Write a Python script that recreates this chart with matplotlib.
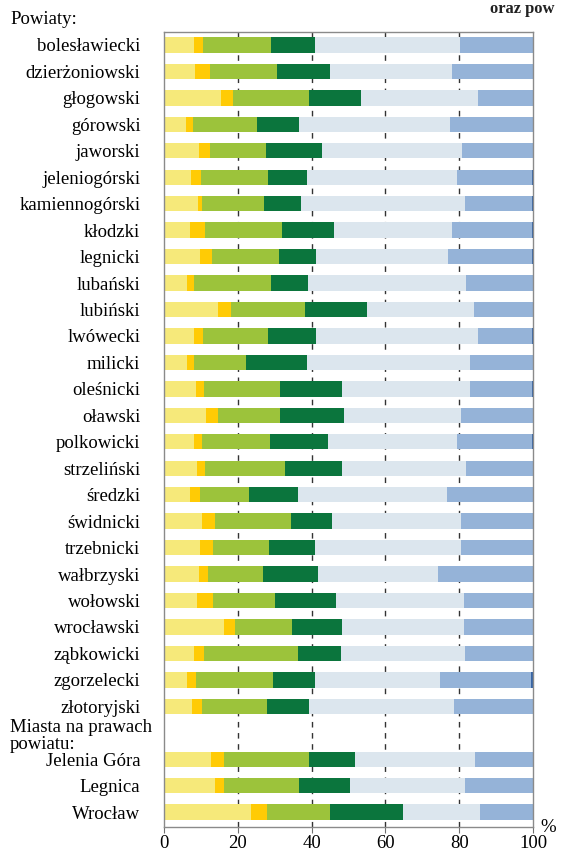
import matplotlib.pyplot as plt
import numpy as np

# nazwy wierszy (powiaty, potem miasta na prawach powiatu)
powiaty = ['bolesławiecki', 'dzierżoniowski', 'głogowski', 'górowski', 'jaworski',
           'jeleniogórski', 'kamiennogórski', 'kłodzki', 'legnicki', 'lubański',
           'lubiński', 'lwówecki', 'milicki', 'oleśnicki', 'oławski', 'polkowicki',
           'strzeliński', 'średzki', 'świdnicki', 'trzebnicki', 'wałbrzyski',
           'wołowski', 'wrocławski', 'ząbkowicki', 'zgorzelecki', 'złotoryjski']
miasta = ['Jelenia Góra', 'Legnica', 'Wrocław']

# udziały (%) kolejnych segmentów: powiaty + miasta
s1 = [8.0, 8.3, 15.4, 5.9, 9.4, 7.3, 9.1, 7.1, 9.8, 6.3, 14.5, 8.1, 6.3, 8.7, 11.5, 8.0,
      8.9, 7.1, 10.2, 9.8, 9.6, 9.0, 16.3, 8.1, 6.1, 7.6, 12.7, 13.7, 23.5]
s2 = [2.7, 4.3, 3.3, 2.0, 3.2, 2.7, 1.2, 4.0, 3.1, 1.9, 3.7, 2.6, 1.9, 2.1, 3.2, 2.3,
      2.1, 2.7, 3.7, 3.4, 2.3, 4.4, 2.9, 2.8, 2.6, 2.6, 3.6, 2.6, 4.3]
s3 = [18.2, 18.0, 20.5, 17.3, 15.1, 18.2, 16.9, 20.8, 18.4, 20.9, 20.0, 17.4, 14.1, 20.6,
      16.7, 18.3, 21.8, 13.3, 20.5, 15.2, 15.0, 16.6, 15.6, 25.3, 20.9, 17.8, 23.1, 20.2, 17.2]
s4 = [12.1, 14.4, 14.2, 11.5, 15.0, 10.5, 9.9, 14.2, 9.8, 9.9, 16.9, 13.1, 16.5, 16.9,
      17.5, 15.8, 15.5, 13.2, 11.1, 12.6, 14.7, 16.5, 13.4, 11.7, 11.3, 11.2, 12.4, 13.9, 19.7]
s5 = [39.3, 33.0, 31.8, 40.7, 38.0, 40.7, 44.4, 31.9, 36.0, 42.9, 29.0, 44.0, 44.2, 34.7,
      31.6, 35.0, 33.6, 40.4, 35.1, 39.4, 32.7, 34.7, 33.2, 33.6, 33.8, 39.3, 32.5, 31.2, 21.0]
s6 = [19.7, 22.0, 14.8, 22.6, 19.3, 20.2, 18.1, 21.6, 22.5, 18.1, 15.9, 14.4, 17.0, 16.6,
      19.5, 20.4, 18.1, 23.3, 19.4, 19.6, 25.7, 18.8, 18.6, 18.5, 24.8, 21.5, 15.7, 18.4, 14.3]
s7 = [0, 0, 0, 0, 0, 0.4, 0.4, 0.4, 0.4, 0, 0, 0.4, 0, 0.4, 0, 0.2,
      0, 0, 0, 0, 0, 0, 0, 0, 0.5, 0, 0, 0, 0]

kolory = ['#F6E97A', '#FFCB05', '#9CC33B', '#0B753D', '#DCE6EE', '#95B3D8', '#3A66A5']

plt.rcParams['font.family'] = ['Liberation Serif', 'DejaVu Serif']

fig = plt.figure(figsize=(5.65, 8.52), dpi=100)
ax = fig.add_axes([164 / 565, 1 - 826.7 / 852, 369 / 565, 795 / 852])

# pozycje: 26 powiatów, jeden pusty wiersz na nagłówek, 3 miasta
y = np.array(list(range(len(powiaty))) + [len(powiaty) + 1 + i for i in range(len(miasta))])
etykiety = powiaty + miasta

left = np.zeros(len(y))
for seg, kol in zip([s1, s2, s3, s4, s5, s6, s7], kolory):
    seg = np.array(seg)
    ax.barh(y, seg, left=left, height=0.58, color=kol, edgecolor='none', zorder=2)
    left += seg

ax.set_xlim(0, 100)
ax.set_ylim(29.55, -0.5)
ax.set_xticks(range(0, 101, 20))
ax.set_yticks(y)
ax.set_yticklabels(etykiety, fontsize=13.5)
ax.tick_params(axis='y', length=0, pad=17)
ax.tick_params(axis='x', labelsize=13.5, length=4, direction='out', color='#707070', pad=2)

for v in [20, 40, 60, 80]:
    ax.axvline(v, color='#333333', lw=1, ls=(0, (4, 4)), zorder=1)

for sp in ax.spines.values():
    sp.set_color('#8a8a8a')
    sp.set_linewidth(1)

# nagłówki
fig.text(10 / 565, 1 - 20 / 852, 'Powiaty:', fontsize=13.5, ha='left', va='center')
fig.text(10 / 565, 1 - 736 / 852, 'Miasta na prawach\npowiatu:', fontsize=13.5,
         ha='left', va='center', linespacing=1.05)
fig.text(548 / 565, 1 - 827 / 852, '%', fontsize=13.5, ha='center', va='center')
fig.text(490 / 565, 1 - 1 / 852, 'oraz pow', fontsize=12, fontweight='bold',
         ha='left', va='top', color='#222222')

fig.savefig('out.png', dpi=100)
